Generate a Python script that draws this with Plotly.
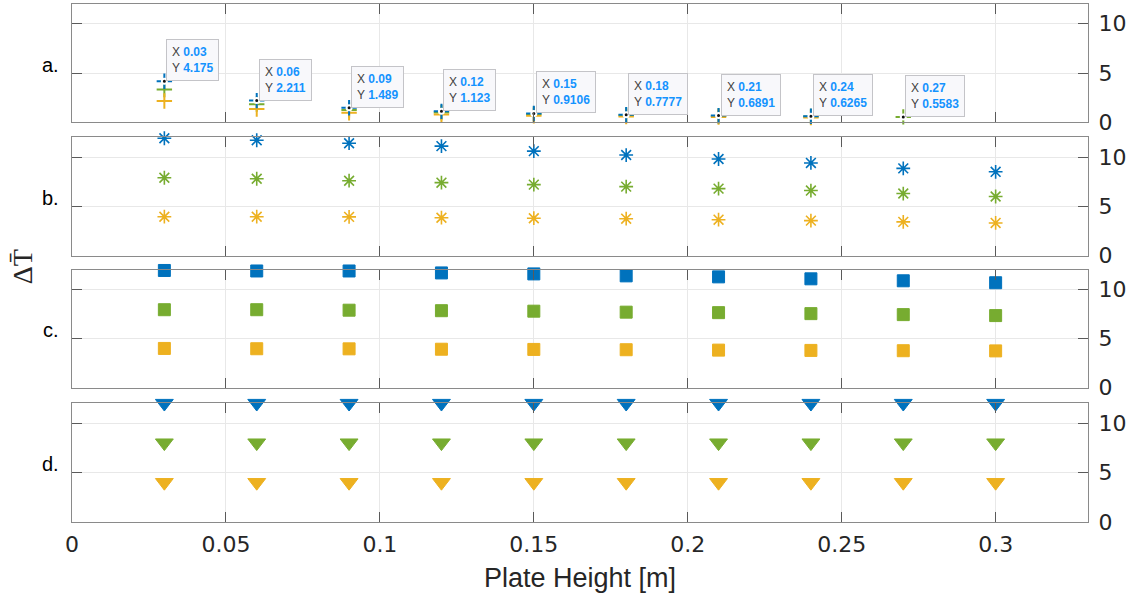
import plotly.graph_objects as go

# Plate heights [m]
plate_height = [0.03, 0.06, 0.09, 0.12, 0.15, 0.18, 0.21, 0.24, 0.27, 0.30]

# Panel a: '+' markers
a_blue = [4.175, 2.211, 1.489, 1.123, 0.9106, 0.7777, 0.6891, 0.6265]
a_green = [3.33, 1.85, 1.27, 1.00, 0.83, 0.72, 0.65, 0.60, 0.5583]
a_yellow = [2.17, 1.35, 0.98, 0.80, 0.68, 0.60, 0.55, 0.50]

# Data tips shown on panel a (x, y)
tip_x = [0.03, 0.06, 0.09, 0.12, 0.15, 0.18, 0.21, 0.24, 0.27]
tip_y = [4.175, 2.211, 1.489, 1.123, 0.9106, 0.7777, 0.6891, 0.6265, 0.5583]

# Panel b: asterisks
b_blue = [11.9, 11.7, 11.4, 11.1, 10.6, 10.2, 9.8, 9.4, 8.85, 8.5]
b_green = [7.9, 7.8, 7.6, 7.4, 7.2, 7.0, 6.8, 6.6, 6.3, 6.0]
b_yellow = [3.95, 3.95, 3.93, 3.85, 3.8, 3.75, 3.65, 3.55, 3.43, 3.32]

# Panel c: squares
c_blue = [11.95, 11.9, 11.9, 11.7, 11.6, 11.4, 11.3, 11.1, 10.9, 10.7]
c_green = [7.95, 7.95, 7.9, 7.85, 7.8, 7.7, 7.65, 7.55, 7.45, 7.35]
c_yellow = [4.0, 3.97, 3.96, 3.92, 3.9, 3.87, 3.83, 3.8, 3.77, 3.75]

# Panel d: downward triangles
d_blue = [12.0, 12.0, 12.0, 12.0, 12.0, 12.0, 12.0, 12.0, 12.0, 12.0]
d_green = [8.0, 8.0, 8.0, 8.0, 8.0, 8.0, 8.0, 8.0, 8.0, 8.0]
d_yellow = [4.0, 4.0, 4.0, 4.0, 4.0, 4.0, 4.0, 4.0, 4.0, 4.0]

x_ticks = [0, 0.05, 0.1, 0.15, 0.2, 0.25, 0.3]
x_ticktext = ["0", "0.05", "0.1", "0.15", "0.2", "0.25", "0.3"]
y_ticks = [0, 5, 10]
panel_labels = ["a.", "b.", "c.", "d."]

BLUE = "#0072BD"
GREEN = "#77AC30"
YELLOW = "#EDB120"
TIP_BLUE = "#1493ff"

fig = go.Figure()


def add_series(xs, ys, axis, symbol, color, size, line_w, line_color=None):
    fig.add_trace(go.Scatter(
        x=xs, y=ys, mode="markers", xaxis="x" + axis, yaxis="y" + axis,
        cliponaxis=False, showlegend=False, hoverinfo="skip",
        marker=dict(symbol=symbol, size=size, color=color,
                    line=dict(width=line_w, color=line_color or color)),
    ))


# Panel a
add_series(plate_height[:len(a_green)], a_green, "", "cross-thin", GREEN, 11, 2)
add_series(plate_height[:len(a_yellow)], a_yellow, "", "cross-thin", YELLOW, 11, 2)
add_series(plate_height[:len(a_blue)], a_blue, "", "cross-thin", BLUE, 11, 2)
fig.add_trace(go.Scatter(
    x=tip_x, y=tip_y, mode="markers", cliponaxis=False, showlegend=False,
    hoverinfo="skip",
    marker=dict(symbol="circle", size=5, color="#111111",
                line=dict(width=2, color="white")),
))

# Panel b
for ys, col in [(b_blue, BLUE), (b_green, GREEN), (b_yellow, YELLOW)]:
    add_series(plate_height, ys, "2", "asterisk-open", col, 11.5, 1.6)

# Panel c
for ys, col in [(c_blue, BLUE), (c_green, GREEN), (c_yellow, YELLOW)]:
    add_series(plate_height, ys, "3", "square", col, 12, 1)

# Panel d
for ys, col in [(d_blue, BLUE), (d_green, GREEN), (d_yellow, YELLOW)]:
    add_series(plate_height, ys, "4", "triangle-down", col, 15.5, 1)

domains = [[0.7714, 1.0], [0.5141, 0.7427], [0.2593, 0.4865], [0.0, 0.2292]]

axis_common = dict(
    showline=True, linecolor="#8a8a8a", linewidth=1, mirror="allticks",
    ticks="inside", ticklen=10, tickcolor="#5a5a5a", tickwidth=1,
    showgrid=True, gridcolor="#e8e8e8", gridwidth=1, zeroline=False,
)

layout = dict(
    width=1130, height=596,
    margin=dict(l=72, r=42, t=4, b=74),
    paper_bgcolor="white", plot_bgcolor="white",
    font=dict(family="DejaVu Sans", color="#262626"),
)

for i, dom in enumerate(domains):
    suffix = "" if i == 0 else str(i + 1)
    anchor = "y" + suffix
    layout["xaxis" + suffix] = dict(
        axis_common, domain=[0, 1], anchor=anchor, range=[0, 0.33],
        tickvals=x_ticks, ticktext=x_ticktext,
        showticklabels=(i == 3), tickfont=dict(size=22, family="DejaVu Sans", color="#262626"),
        ticklabelstandoff=3,
    )
    layout["yaxis" + suffix] = dict(
        axis_common, domain=dom, anchor="x" + suffix, range=[0, 12],
        tickvals=y_ticks, side="right",
        tickfont=dict(size=22, family="DejaVu Sans", color="#262626"),
        ticklabelstandoff=5,
    )

fig.update_layout(**layout)

annotations = []

# Data tip boxes
for xv, yv in zip(tip_x, tip_y):
    txt = (f"X <b><span style='color:{TIP_BLUE}'>{xv:.4g}</span></b><br>"
           f"Y <b><span style='color:{TIP_BLUE}'>{yv:.4g}</span></b>")
    annotations.append(dict(
        x=xv, y=yv, xref="x", yref="y", xanchor="left", yanchor="bottom",
        xshift=2, text=txt, showarrow=False, align="left",
        font=dict(family="Liberation Sans", size=12, color="#404040"),
        bgcolor="#f8f8fb", bordercolor="#c4c4c8", borderwidth=1, borderpad=5,
    ))

# Panel letters
for lab, dom in zip(panel_labels, domains):
    annotations.append(dict(
        x=-0.0207, y=(dom[0] + dom[1]) / 2 - 0.003, xref="paper", yref="paper",
        xanchor="center", yanchor="middle", text=lab, showarrow=False,
        font=dict(family="Liberation Sans", size=20, color="black"),
    ))

# Axis titles
annotations.append(dict(
    x=-0.049, y=0.492, xref="paper", yref="paper", xanchor="center",
    yanchor="middle", text="\u0394T\u0304", textangle=-90, showarrow=False,
    font=dict(family="Liberation Serif", size=28, color="#262626"),
))
annotations.append(dict(
    x=0.5, y=-0.108, xref="paper", yref="paper", xanchor="center",
    yanchor="middle", text="Plate Height [m]", showarrow=False,
    font=dict(family="Liberation Sans", size=27, color="#262626"),
))

fig.update_layout(annotations=annotations)

fig.write_html("out.html")
